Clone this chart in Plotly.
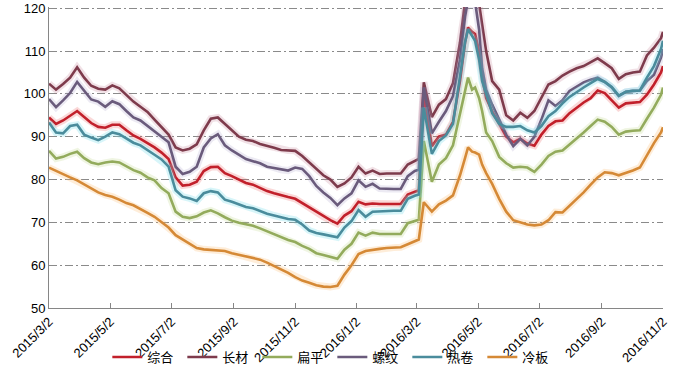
import plotly.graph_objects as go

dates = [
    "2015-03-02", "2015-03-09", "2015-03-16", "2015-03-23", "2015-03-30", "2015-04-06", "2015-04-13", "2015-04-20", "2015-04-27", "2015-05-04",
    "2015-05-11", "2015-05-18", "2015-05-25", "2015-06-01", "2015-06-08", "2015-06-15", "2015-06-22", "2015-06-29", "2015-07-06", "2015-07-13",
    "2015-07-20", "2015-07-27", "2015-08-03", "2015-08-10", "2015-08-17", "2015-08-24", "2015-08-31", "2015-09-07", "2015-09-14", "2015-09-21",
    "2015-09-28", "2015-10-05", "2015-10-12", "2015-10-19", "2015-10-26", "2015-11-02", "2015-11-09", "2015-11-16", "2015-11-23", "2015-11-30",
    "2015-12-07", "2015-12-14", "2015-12-21", "2015-12-28", "2016-01-04", "2016-01-11", "2016-01-18", "2016-01-25", "2016-02-01", "2016-02-08",
    "2016-02-15", "2016-02-22", "2016-02-29", "2016-03-04", "2016-03-09", "2016-03-17", "2016-03-24", "2016-03-31", "2016-04-07", "2016-04-14",
    "2016-04-19", "2016-04-22", "2016-04-26", "2016-04-29", "2016-05-03", "2016-05-06", "2016-05-10", "2016-05-16", "2016-05-23", "2016-05-30",
    "2016-06-06", "2016-06-13", "2016-06-20", "2016-06-27", "2016-07-04", "2016-07-11", "2016-07-18", "2016-07-25", "2016-08-01", "2016-08-08",
    "2016-08-15", "2016-08-22", "2016-08-29", "2016-09-05", "2016-09-12", "2016-09-19", "2016-09-26", "2016-10-03", "2016-10-10", "2016-10-17",
    "2016-10-24", "2016-10-31", "2016-11-02",
]

zonghe = [
    94.5, 93.0, 93.8, 95.0, 96.0, 94.6, 93.2, 92.3, 92.1, 92.8,
    92.8, 91.5, 90.3, 89.5, 88.6, 87.5, 86.3, 84.8, 80.5, 78.6,
    78.8, 79.5, 82.0, 82.9, 83.0, 81.5, 80.8, 80.0, 79.2, 78.8,
    78.0, 77.3, 76.8, 76.3, 75.9, 75.5, 74.5, 73.3, 72.3, 71.3,
    70.5, 69.7, 71.6, 72.6, 74.8, 74.2, 74.4, 74.3, 74.3, 74.3,
    74.3, 76.5, 77.2, 77.5, 100.0, 87.8, 90.0, 90.5, 93.5, 103.0,
    112.0, 115.5, 114.5, 114.0, 110.0, 104.0, 99.0, 96.0, 93.0, 90.0,
    88.7, 89.5, 88.4, 87.9, 90.5, 92.5, 93.6, 93.8, 95.5, 96.8,
    98.0, 99.0, 100.8, 100.2, 98.5, 96.8, 97.8, 98.0, 98.1, 99.8,
    102.2, 105.0, 106.5,
]

changcai = [
    102.4, 101.0, 102.3, 103.8, 106.2, 103.8, 101.9, 101.2, 101.0, 102.0,
    101.3, 99.8, 98.2, 97.0, 95.8, 94.0, 92.3, 90.5, 87.5, 86.8,
    87.2, 88.2, 91.5, 94.2, 94.5, 93.0, 91.3, 90.0, 89.3, 89.0,
    88.3, 87.9, 87.4, 86.9, 86.8, 86.7, 85.5, 84.0, 82.5, 81.0,
    80.0, 78.3, 79.1, 80.5, 83.0, 81.4, 82.1, 81.3, 81.4, 81.4,
    81.4, 83.5, 84.4, 84.8, 102.7, 94.6, 97.5, 98.8, 102.5, 112.0,
    121.5, 124.0, 122.0, 123.5, 121.0, 116.0, 110.0, 103.0, 101.0, 95.0,
    93.8, 95.6, 94.4, 96.0, 99.0, 102.2, 103.0, 104.3, 105.2, 106.0,
    106.5, 107.4, 108.3, 107.2, 106.0, 103.5, 104.6, 105.0, 105.2, 109.0,
    110.8, 113.0, 114.5,
]

bianping = [
    86.7, 84.9, 85.3, 86.0, 86.5, 85.0, 84.0, 83.6, 84.0, 84.2,
    84.0, 83.0, 82.2, 81.6, 80.5, 79.8, 78.0, 76.8, 72.5, 71.3,
    71.0, 71.4, 72.3, 72.8, 72.1, 71.2, 70.4, 69.9, 69.5, 69.2,
    68.6, 67.9, 67.2, 66.6, 65.9, 65.4, 64.5, 63.8, 62.8, 62.4,
    62.0, 61.5, 63.6, 65.0, 67.6, 66.9, 67.6, 67.3, 67.3, 67.3,
    67.3, 69.8, 70.4, 70.6, 89.0, 79.5, 83.5, 85.0, 88.0, 95.5,
    100.5, 103.8, 101.0, 101.5, 99.0, 96.0, 91.0, 89.0, 85.3, 83.8,
    82.8, 83.0, 82.8, 81.8, 83.5, 85.5, 86.5, 86.8, 88.2, 89.5,
    91.0, 92.5, 94.0, 93.5, 92.3, 90.5, 91.2, 91.4, 91.5, 94.2,
    96.8, 99.8, 101.5,
]

luowen = [
    98.8, 96.9, 98.5, 100.2, 102.8, 100.8, 98.7, 98.2, 97.0, 98.3,
    97.6, 96.0, 94.5, 93.8, 92.5, 91.2, 90.0, 88.7, 83.0, 81.3,
    81.8, 83.0, 87.5, 89.6, 90.6, 88.0, 86.8, 85.8, 84.8, 84.3,
    83.8, 83.0, 82.7, 82.3, 82.1, 82.8, 82.5, 80.8, 78.5, 77.0,
    75.7, 74.0, 75.6, 76.8, 79.8, 78.3, 79.0, 77.9, 77.8, 77.8,
    77.8, 80.8, 82.0, 82.3, 101.5, 90.8, 93.5, 96.0, 99.5, 108.0,
    118.0, 122.0, 121.0, 121.5, 115.0, 106.0, 101.0, 97.5, 94.0, 90.5,
    87.8, 89.5, 88.0, 90.0, 94.0, 98.5, 97.2, 98.5, 100.7, 101.8,
    102.7, 103.3, 103.8, 102.8, 101.5, 99.5, 100.5, 100.7, 100.8, 103.0,
    104.5, 108.5, 110.5,
]

rejuan = [
    93.3, 91.0, 90.8, 92.5, 92.8, 90.5, 89.8, 89.2, 90.0, 91.0,
    90.6, 89.5, 88.6, 88.0, 86.8, 85.8, 84.7, 83.0, 77.5, 76.0,
    75.6, 75.0, 76.8, 77.3, 77.0, 75.3, 74.8, 74.2, 73.6, 73.3,
    72.7, 72.0, 71.6, 71.2, 70.8, 70.6, 69.5, 68.1, 67.5, 67.2,
    66.8, 66.5, 68.8, 70.3, 72.9, 71.3, 72.5, 72.6, 72.7, 72.7,
    72.7, 75.5, 76.2, 76.5, 96.8, 86.0, 89.0, 90.3, 93.0, 104.0,
    112.0, 115.1, 113.5, 112.4, 108.0, 103.0, 100.0, 95.5, 93.0, 92.3,
    92.3, 92.5, 91.5, 91.0, 92.5, 94.8, 96.0, 97.8, 99.3, 100.5,
    101.5, 102.5, 103.5, 102.8, 101.6, 99.6, 100.5, 100.7, 100.8, 103.8,
    106.5, 110.5, 112.4,
]

lengban = [
    82.8, 82.0, 81.2, 80.5, 79.8, 78.8, 78.0, 77.0, 76.4, 76.0,
    75.3, 74.5, 74.0, 73.0, 72.2, 71.3, 70.0, 68.8, 67.0, 66.0,
    65.2, 64.0, 63.7, 63.6, 63.5, 63.3, 62.8, 62.4, 62.0, 61.7,
    61.3, 60.6, 59.8, 59.0, 58.2, 57.2, 56.4, 55.9, 55.3, 55.0,
    54.9, 55.2, 57.8, 60.0, 62.6, 63.3, 63.6, 63.8, 64.0, 64.1,
    64.2, 64.9, 65.5, 66.0, 74.7, 72.5, 74.2, 75.1, 76.3, 81.0,
    85.0, 87.5, 86.5, 86.3, 85.8, 83.5, 81.5, 79.0, 75.5, 72.5,
    70.5, 70.0, 69.5, 69.3, 69.5, 70.5, 72.4, 72.3, 73.8, 75.3,
    77.0, 78.8, 80.5, 81.7, 81.5, 81.0, 81.5, 82.1, 82.8, 85.8,
    88.5, 91.0, 92.2,
]

series_names = ["综合", "长材", "扁平", "螺纹", "热卷", "冷板"]
series_values = [zonghe, changcai, bianping, luowen, rejuan, lengban]
series_colors = ["#C2202B", "#7E3B4C", "#93AB5C", "#6A5B7C", "#4A8C9C", "#D58936"]
glow_colors = ["rgba(230,80,80,0.22)", "rgba(190,120,140,0.22)", "rgba(190,215,140,0.25)",
               "rgba(170,160,200,0.22)", "rgba(110,220,235,0.28)", "rgba(250,190,120,0.28)"]

y_ticks = [50, 60, 70, 80, 90, 100, 110, 120]
tick_vals = ["2015-03-02", "2015-05-02", "2015-07-02", "2015-09-02", "2015-11-02", "2016-01-02",
             "2016-03-02", "2016-05-02", "2016-07-02", "2016-09-02", "2016-11-02"]
tick_text = ["2015/3/2", "2015/5/2", "2015/7/2", "2015/9/2", "2015/11/2", "2016/1/2",
             "2016/3/2", "2016/5/2", "2016/7/2", "2016/9/2", "2016/11/2"]

fig = go.Figure()
for name, vals, col, gcol in zip(series_names, series_values, series_colors, glow_colors):
    fig.add_trace(go.Scatter(x=dates, y=vals, mode="lines", line=dict(color=gcol, width=7),
                             showlegend=False, hoverinfo="skip"))
    fig.add_trace(go.Scatter(x=dates, y=vals, mode="lines", name=name,
                             line=dict(color=col, width=2.6)))

fig.update_layout(
    width=688, height=373,
    margin=dict(l=49, r=25, t=7, b=65, autoexpand=False),
    paper_bgcolor="white", plot_bgcolor="white",
    font=dict(family="Liberation Sans, Noto Sans CJK SC", size=12, color="#000000"),
    legend=dict(orientation="h", x=0.095, xanchor="left", y=-0.163, yanchor="middle",
                bgcolor="rgba(0,0,0,0)", font=dict(size=13, family="Noto Sans CJK SC"),
                entrywidth=30, itemwidth=30, tracegroupgap=0),
)
fig.update_xaxes(
    type="date", range=["2015-03-02", "2016-11-02"], automargin=False,
    tickmode="array", tickvals=tick_vals, ticktext=tick_text, tickangle=-45,
    showgrid=False, showline=True, linecolor="#868686", linewidth=1,
    ticks="inside", ticklen=5, tickcolor="#868686", zeroline=False,
    tickfont=dict(size=13, family="Liberation Sans"),
)
fig.update_yaxes(
    range=[50, 120.3], automargin=False, tickmode="array", tickvals=y_ticks,
    showgrid=True, gridcolor="#8a8a8a", gridwidth=1, griddash="8px,3px,2px,3px",
    showline=True, linecolor="#868686", linewidth=1, ticks="", zeroline=False,
    tickfont=dict(size=13, family="Liberation Sans"),
)

fig.write_html("out.html", config={"displayModeBar": False},
               post_script="document.body.style.margin='0';document.body.style.padding='0';")
